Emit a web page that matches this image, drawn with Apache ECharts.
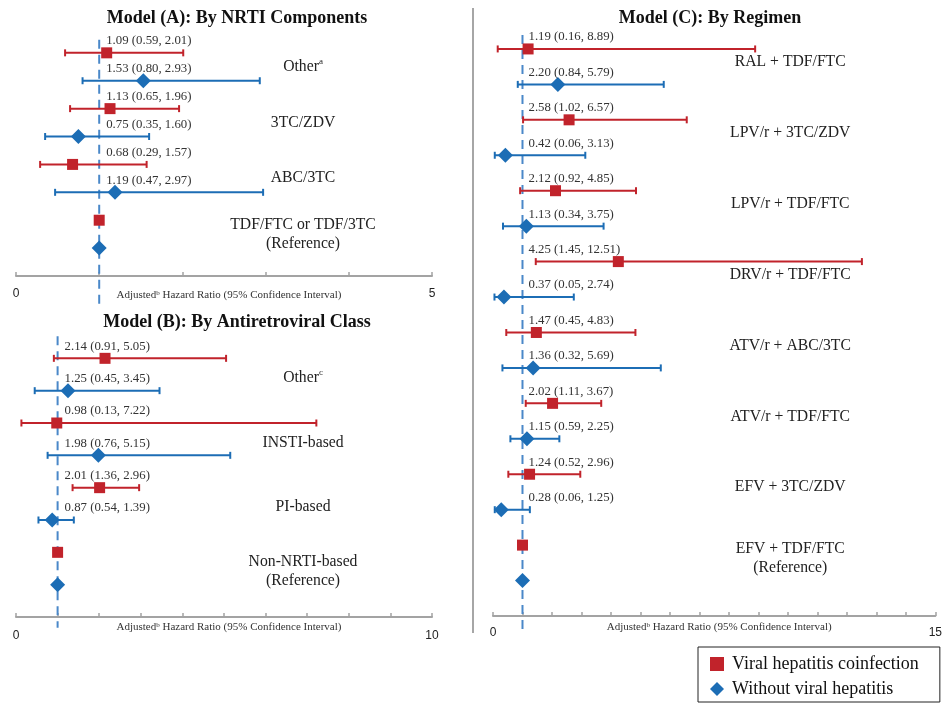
<!DOCTYPE html>
<html>
<head>
<meta charset="utf-8">
<title>Adjusted hazard ratios by regimen</title>
<script src="https://cdn.jsdelivr.net/npm/echarts@6/dist/echarts.min.js"></script>
<style>
    html, body { margin: 0; padding: 0; background: #fff; }
    #chart { width: 945px; height: 705px; }
</style>
</head>
<body>
<div id="chart"></div>
<script>
// Model (A): by NRTI components
var aCategories = ['Other{sup|a}', '3TC/ZDV', 'ABC/3TC', 'TDF/FTC or TDF/3TC\n(Reference)'];
var aCoinfHR = [1.09, 1.13, 0.68, 1];
var aCoinfLo = [0.59, 0.65, 0.29, null];
var aCoinfHi = [2.01, 1.96, 1.57, null];
var aNoHepHR = [1.53, 0.75, 1.19, 1];
var aNoHepLo = [0.80, 0.35, 0.47, null];
var aNoHepHi = [2.93, 1.60, 2.97, null];

// Model (B): by antiretroviral class
var bCategories = ['Other{sup|c}', 'INSTI-based', 'PI-based', 'Non-NRTI-based\n(Reference)'];
var bCoinfHR = [2.14, 0.98, 2.01, 1];
var bCoinfLo = [0.91, 0.13, 1.36, null];
var bCoinfHi = [5.05, 7.22, 2.96, null];
var bNoHepHR = [1.25, 1.98, 0.87, 1];
var bNoHepLo = [0.45, 0.76, 0.54, null];
var bNoHepHi = [3.45, 5.15, 1.39, null];

// Model (C): by regimen
var cCategories = ['RAL + TDF/FTC', 'LPV/r + 3TC/ZDV', 'LPV/r + TDF/FTC', 'DRV/r + TDF/FTC',
    'ATV/r + ABC/3TC', 'ATV/r + TDF/FTC', 'EFV + 3TC/ZDV', 'EFV + TDF/FTC\n(Reference)'];
var cCoinfHR = [1.19, 2.58, 2.12, 4.25, 1.47, 2.02, 1.24, 1];
var cCoinfLo = [0.16, 1.02, 0.92, 1.45, 0.45, 1.11, 0.52, null];
var cCoinfHi = [8.89, 6.57, 4.85, 12.51, 4.83, 3.67, 2.96, null];
var cNoHepHR = [2.20, 0.42, 1.13, 0.37, 1.36, 1.15, 0.28, 1];
var cNoHepLo = [0.84, 0.06, 0.34, 0.05, 0.32, 0.59, 0.06, null];
var cNoHepHi = [5.79, 3.13, 3.75, 2.74, 5.69, 2.25, 1.25, null];

var xMax = [5, 10, 15];
var titles = ['Model (A): By NRTI Components', 'Model (B): By Antiretroviral Class', 'Model (C): By Regimen'];
var axisName = 'Adjusted{sup|b} Hazard Ratio (95% Confidence Interval)';
var coinfName = 'Viral hepatitis coinfection';
var noHepName = 'Without viral hepatitis';

var SERIF = '"Liberation Serif", "Times New Roman", serif';
var RED = '#c1232b';
var BLUE = '#1c6db5';
var REFBLUE = '#4a88c9';

function fmt(hr, lo, hi) {
    return hr.toFixed(2) + ' (' + lo.toFixed(2) + ', ' + hi.toFixed(2) + ')';
}

function buildPanel(g, cats, cHR, cLo, cHi, nHR, nLo, nHi, opt) {
    var bars = [], red = [], blue = [], nums = [], numText = [], labels = [];
    for (var i = 0; i < cats.length; i++) {
        red.push([cHR[i], 2 * i]);
        blue.push([nHR[i], 2 * i + 1]);
        if (cLo[i] != null) {
            bars.push([cLo[i], cHi[i], 2 * i, 0]);
            nums.push([1, 2 * i]);
            numText.push(fmt(cHR[i], cLo[i], cHi[i]));
        }
        if (nLo[i] != null) {
            bars.push([nLo[i], nHi[i], 2 * i + 1, 1]);
            nums.push([1, 2 * i + 1]);
            numText.push(fmt(nHR[i], nLo[i], nHi[i]));
        }
        labels.push([opt.labelX, 2 * i + opt.labelShift]);
    }
    return [
        {
            type: 'custom', xAxisIndex: g, yAxisIndex: g, z: 1, silent: true,
            data: [[1, opt.refTop, opt.refBottom]],
            encode: { x: 0, y: [1, 2] },
            renderItem: function (params, api) {
                var p1 = api.coord([api.value(0), api.value(1)]);
                var p2 = api.coord([api.value(0), api.value(2)]);
                return {
                    type: 'line',
                    shape: { x1: p1[0], y1: p1[1], x2: p2[0], y2: p2[1] },
                    style: { stroke: REFBLUE, lineWidth: 2, lineDash: [9, 6] }
                };
            }
        },
        {
            type: 'custom', xAxisIndex: g, yAxisIndex: g, z: 2, silent: true,
            data: bars,
            encode: { x: [0, 1], y: 2 },
            renderItem: function (params, api) {
                var lo = api.coord([api.value(0), api.value(2)]);
                var hi = api.coord([api.value(1), api.value(2)]);
                var st = { stroke: api.value(3) === 0 ? RED : BLUE, lineWidth: 2 };
                var cap = 3.5;
                return {
                    type: 'group',
                    children: [
                        { type: 'line', shape: { x1: lo[0], y1: lo[1], x2: hi[0], y2: hi[1] }, style: st },
                        { type: 'line', shape: { x1: lo[0], y1: lo[1] - cap, x2: lo[0], y2: lo[1] + cap }, style: st },
                        { type: 'line', shape: { x1: hi[0], y1: hi[1] - cap, x2: hi[0], y2: hi[1] + cap }, style: st }
                    ]
                };
            }
        },
        {
            type: 'scatter', name: coinfName, xAxisIndex: g, yAxisIndex: g, z: 3,
            symbol: 'rect', symbolSize: 11, itemStyle: { color: RED, opacity: 1 },
            emphasis: { disabled: true },
            data: red
        },
        {
            type: 'scatter', name: noHepName, xAxisIndex: g, yAxisIndex: g, z: 3,
            symbol: 'diamond', symbolSize: 15, itemStyle: { color: BLUE, opacity: 1 },
            emphasis: { disabled: true },
            data: blue
        },
        {
            type: 'custom', xAxisIndex: g, yAxisIndex: g, z: 4, silent: true,
            data: nums,
            renderItem: function (params, api) {
                var p = api.coord([api.value(0), api.value(1)]);
                return {
                    type: 'text',
                    style: {
                        text: numText[params.dataIndex], x: p[0] + opt.textDx, y: p[1] - 12,
                        fill: '#333', fontSize: 12.8, fontFamily: SERIF,
                        align: 'left', textAlign: 'left', verticalAlign: 'middle', textVerticalAlign: 'middle'
                    }
                };
            }
        },
        {
            type: 'custom', xAxisIndex: g, yAxisIndex: g, z: 4, silent: true,
            data: labels,
            renderItem: function (params, api) {
                var p = api.coord([api.value(0), api.value(1)]);
                return {
                    type: 'text',
                    style: {
                        text: cats[params.dataIndex], x: p[0], y: p[1],
                        fill: '#222', fontSize: 15.7, fontFamily: SERIF, lineHeight: 19,
                        align: 'center', textAlign: 'center', verticalAlign: 'middle', textVerticalAlign: 'middle',
                        rich: { sup: { fontSize: 9, fontFamily: SERIF, fill: '#222', verticalAlign: 'top', lineHeight: 19 } }
                    }
                };
            }
        }
    ];
}

function makeXAxis(g, max, gap, margin) {
    return {
        gridIndex: g, type: 'value', position: 'bottom', min: 0, max: max, interval: 1,
        name: axisName, nameLocation: 'middle', nameGap: gap, nameMoveOverlap: false,
        nameTextStyle: {
            fontFamily: SERIF, fontSize: 11, color: '#333', padding: [0, 0, 0, 10],
            rich: { sup: { fontFamily: SERIF, fontSize: 7, color: '#333', verticalAlign: 'top' } }
        },
        axisLine: { show: true, onZero: false, lineStyle: { color: '#a3a3a3', width: 2 } },
        axisTick: { show: true, inside: true, length: 4, lineStyle: { color: '#a3a3a3', width: 1.5 } },
        splitLine: { show: false },
        axisLabel: {
            margin: margin, color: '#222', fontSize: 12, fontFamily: '"Liberation Sans", Arial, sans-serif',
            formatter: function (v) { return (v === 0 || v === max) ? String(v) : ''; }
        }
    };
}

var chart = echarts.init(document.getElementById('chart'));

var series = []
    .concat(buildPanel(0, aCategories, aCoinfHR, aCoinfLo, aCoinfHi, aNoHepHR, aNoHepLo, aNoHepHi,
        { labelX: 3.45, labelShift: 0.5, refTop: -0.47, refBottom: 9.1, textDx: 7 }))
    .concat(buildPanel(1, bCategories, bCoinfHR, bCoinfLo, bCoinfHi, bNoHepHR, bNoHepLo, bNoHepHi,
        { labelX: 6.9, labelShift: 0.6, refTop: -0.68, refBottom: 8.33, textDx: 7 }))
    .concat(buildPanel(2, cCategories, cCoinfHR, cCoinfLo, cCoinfHi, cNoHepHR, cNoHepLo, cNoHepHi,
        { labelX: 10.08, labelShift: 0.37, refTop: -0.39, refBottom: 16.45, textDx: 6 }));

var titleStyle = { fill: '#111', fontSize: 18, fontWeight: 'bold', fontFamily: SERIF, align: 'center', verticalAlign: 'middle' };

chart.setOption({
    animation: false,
    backgroundColor: '#fff',
    grid: [
        { left: 16, top: 11, width: 416, height: 265 },
        { left: 16, top: 326, width: 416, height: 291 },
        { left: 493, top: 13.5, width: 445, height: 602.5 }
    ],
    xAxis: [
        makeXAxis(0, xMax[0], 14, 12),
        makeXAxis(1, xMax[1], 5, 13),
        makeXAxis(2, xMax[2], 6, 11)
    ],
    yAxis: [
        { gridIndex: 0, type: 'value', inverse: true, min: -1.5, max: 8, show: false },
        { gridIndex: 1, type: 'value', inverse: true, min: -1, max: 8, show: false },
        { gridIndex: 2, type: 'value', inverse: true, min: -1, max: 16, show: false }
    ],
    legend: {
        orient: 'vertical', left: 698, top: 647,
        data: [{ name: coinfName, icon: 'rect' }, { name: noHepName, icon: 'diamond' }],
        selectedMode: false,
        itemWidth: 14, itemHeight: 14, itemGap: 7,
        borderColor: '#222', borderWidth: 1, borderRadius: 0,
        padding: [8, 21, 4, 12],
        textStyle: { fontFamily: SERIF, fontSize: 18, color: '#111', padding: [0, 0, 0, 3] }
    },
    graphic: [
        { type: 'text', x: 237, y: 18, style: Object.assign({ text: titles[0] }, titleStyle) },
        { type: 'text', x: 237, y: 322, style: Object.assign({ text: titles[1] }, titleStyle) },
        { type: 'text', x: 710, y: 18, style: Object.assign({ text: titles[2] }, titleStyle) },
        { type: 'line', shape: { x1: 473, y1: 8, x2: 473, y2: 633 }, style: { stroke: '#a6a6a6', lineWidth: 2 } }
    ],
    series: series
});
</script>
</body>
</html>
